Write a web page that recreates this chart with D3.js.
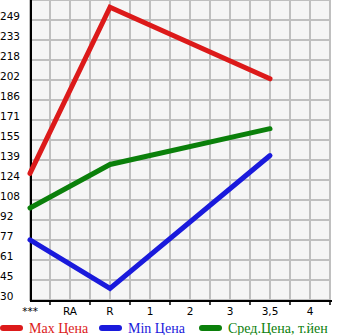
<!DOCTYPE html>
<html>
<head>
<meta charset="utf-8">
<script src="https://cdn.jsdelivr.net/npm/d3@7"></script>
<style>
  body { margin: 0; background: #fff; }
  svg { display: block; }
</style>
</head>
<body>
<div id="chart"></div>
<script>
let categories = ['***', 'RA', 'R', '1', '2', '3', '3,5', '4'];
let yTickLabels = ['30', '45', '61', '77', '92', '108', '124', '139', '155', '171', '186', '202', '218', '233', '249'];
let maxPrice = [129, null, 259, null, null, null, 203, null];
let minPrice = [77, null, 39, null, null, null, 143, null];
let avgPrice = [102, null, 136, null, null, null, 164, null];
let seriesNames = ['Max Цена', 'Min Цена', 'Сред.Цена, т.йен'];

let width = 345,
    height = 335,
    plot = {left: 30, right: 330, top: 0, bottom: 300};

let colors = ['#dc1a1a', '#1a1adc', '#0b800b'];

let svg = d3.select('#chart')
  .append('svg')
  .attr('width', width)
  .attr('height', height);

let x = d3.scalePoint()
  .domain(categories)
  .range([plot.left, plot.right - 20]);

let y = d3.scaleLinear()
  .domain([30, 249])
  .range([plot.bottom, 20]);

let yTickPos = d3.scalePoint()
  .domain(yTickLabels)
  .range([plot.bottom, 20]);

// plot background
svg.append('rect')
  .attr('x', plot.left)
  .attr('y', plot.top)
  .attr('width', plot.right - plot.left)
  .attr('height', plot.bottom - plot.top)
  .attr('fill', '#f6f6f6')
  .attr('stroke', '#c0c0c0')
  .attr('stroke-width', 2);

// grid: every half step horizontally and vertically
let step = x.step() / 2;
let vGrid = d3.range(plot.left + step, plot.right + 1, step);
svg.append('g')
  .selectAll('line')
  .data(vGrid)
  .enter().append('line')
    .attr('x1', d => d).attr('x2', d => d)
    .attr('y1', plot.top).attr('y2', plot.bottom)
    .attr('stroke', '#c0c0c0')
    .attr('stroke-width', 2)
    .attr('shape-rendering', 'crispEdges');

svg.append('g')
  .selectAll('line')
  .data(yTickLabels)
  .enter().append('line')
    .attr('x1', plot.left).attr('x2', plot.right)
    .attr('y1', d => yTickPos(d)).attr('y2', d => yTickPos(d))
    .attr('stroke', '#c0c0c0')
    .attr('stroke-width', 2)
    .attr('shape-rendering', 'crispEdges');

// y labels
svg.append('g')
  .selectAll('text')
  .data(yTickLabels)
  .enter().append('text')
    .attr('x', 0)
    .attr('y', d => yTickPos(d))
    .attr('font-family', 'DejaVu Sans')
    .attr('font-size', 10.5)
    .attr('fill', '#000')
    .text(d => d);

// axes
svg.append('line')
  .attr('x1', plot.left + 1).attr('x2', plot.left + 1)
  .attr('y1', plot.top).attr('y2', plot.bottom + 1)
  .attr('stroke', '#000').attr('stroke-width', 2);
svg.append('line')
  .attr('x1', plot.left).attr('x2', plot.right + 2)
  .attr('y1', plot.bottom + 1).attr('y2', plot.bottom + 1)
  .attr('stroke', '#000').attr('stroke-width', 2);

let bottomTicks = d3.range(plot.left + step, plot.right + 1, x.step());
svg.append('g')
  .selectAll('line')
  .data(bottomTicks)
  .enter().append('line')
    .attr('x1', d => d).attr('x2', d => d)
    .attr('y1', plot.bottom).attr('y2', plot.bottom + 5)
    .attr('stroke', '#000')
    .attr('stroke-width', 1.5);

svg.append('g')
  .selectAll('text')
  .data(categories)
  .enter().append('text')
    .attr('x', d => x(d))
    .attr('y', plot.bottom + 15)
    .attr('text-anchor', 'middle')
    .attr('font-family', 'DejaVu Sans')
    .attr('font-size', 10.5)
    .text(d => d);

// series lines
let series = [maxPrice, minPrice, avgPrice];
let line = d3.line()
  .x(d => x(d.cat))
  .y(d => y(d.value));

series.forEach((values, i) => {
  let pts = categories.map((c, j) => ({cat: c, value: values[j]}))
    .filter(d => d.value != null);
  svg.append('path')
    .datum(pts)
    .attr('d', line)
    .attr('fill', 'none')
    .attr('stroke', colors[i])
    .attr('stroke-width', 5)
    .attr('stroke-linecap', 'round')
    .attr('stroke-linejoin', 'miter');
});

// legend
let legendX = [0, 99, 199];
let legend = svg.append('g')
  .selectAll('g')
  .data(seriesNames)
  .enter().append('g')
    .attr('transform', (d, i) => `translate(${legendX[i]},0)`);
legend.append('line')
  .attr('x1', 3).attr('x2', 20)
  .attr('y1', 328).attr('y2', 328)
  .attr('stroke', (d, i) => colors[i])
  .attr('stroke-width', 6)
  .attr('stroke-linecap', 'round');
legend.append('text')
  .attr('x', 29)
  .attr('y', 333)
  .attr('font-family', 'Liberation Serif')
  .attr('font-size', 14)
  .attr('fill', (d, i) => colors[i])
  .text(d => d);
</script>
</body>
</html>
